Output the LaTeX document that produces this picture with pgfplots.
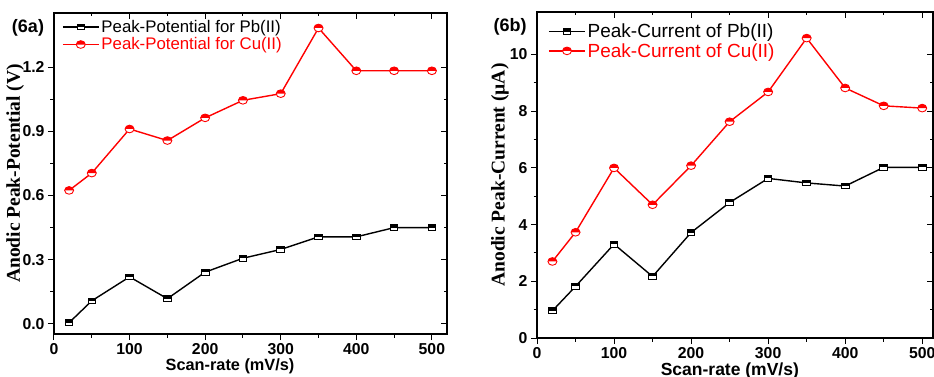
\documentclass[border=0pt]{standalone}
\usepackage{pgfplots}
\pgfplotsset{compat=1.18}
\usepackage{fontspec}
\setmainfont{Liberation Sans}
\newfontfamily\timesfont{Liberation Serif}
\usetikzlibrary{plotmarks}

\pgfdeclareplotmark{hcirc}{%
  \begin{pgfscope}\pgfsetfillcolor{white}\pgfpathcircle{\pgfpointorigin}{\pgfplotmarksize}\pgfusepathqfill\end{pgfscope}%
  \pgfpathmoveto{\pgfqpoint{\pgfplotmarksize}{0pt}}%
  \pgfpatharc{0}{180}{\pgfplotmarksize}%
  \pgfpathclose\pgfusepathqfill
  \pgfpathcircle{\pgfpointorigin}{\pgfplotmarksize}\pgfusepathqstroke}
\pgfdeclareplotmark{hsq}{%
  \begin{pgfscope}\pgfsetfillcolor{white}\pgfpathrectangle{\pgfqpoint{-\pgfplotmarksize}{-\pgfplotmarksize}}{\pgfqpoint{2\pgfplotmarksize}{2\pgfplotmarksize}}\pgfusepathqfill\end{pgfscope}%
  \pgfpathrectangle{\pgfqpoint{-\pgfplotmarksize}{0pt}}{\pgfqpoint{2\pgfplotmarksize}{\pgfplotmarksize}}\pgfusepathqfill
  \pgfpathrectangle{\pgfqpoint{-\pgfplotmarksize}{-\pgfplotmarksize}}{\pgfqpoint{2\pgfplotmarksize}{2\pgfplotmarksize}}\pgfusepathqstroke}

\pgfplotsset{
  base/.style={scale only axis, axis line style={line width=1.4pt},
    every tick/.style={black, line width=1pt}, major tick length=6pt, minor tick length=3.5pt,
    tick label style={font=\fontsize{15.8}{16}\selectfont\bfseries},
    /pgf/number format/assume math mode=true,
    minor x tick num=1, minor y tick num=1, clip=false},
  overlay/.style={base, xtick pos=right, ytick pos=right, tick align=inside,
    xticklabels={}, yticklabels={}, axis line style={draw=none}},
  pbplot/.style={black, line width=1.4pt, mark=hsq, mark size=3.8pt, mark options={solid, line width=0.9pt, yscale=0.75, fill=black}},
  cuplot/.style={red, line width=1.4pt, mark=hcirc, mark size=4.5pt, mark options={solid, line width=0.9pt, yscale=0.85, fill=red}},
  leg/.style={legend style={draw=none, fill=none, inner sep=0pt, legend cell align=left, row sep=0pt},
    legend image code/.code={\draw[mark repeat=2,mark phase=2] plot coordinates {(0pt,0pt) (18pt,0pt) (36pt,0pt)};}}
}

\begin{document}
\begin{tikzpicture}[x=1pt,y=1pt]
\path[use as bounding box] (0,0) rectangle (934,-377);

% ---- Panel (6a)
\begin{axis}[base, leg, at={(54pt,-334pt)}, anchor=south west, width=393pt, height=321pt,
  xmin=0, xmax=520, ymin=-0.047, ymax=1.453,
  xtick={0,100,200,300,400,500}, ytick={0,0.3,0.6,0.9,1.2},
  yticklabel style={/pgf/number format/.cd, fixed, fixed zerofill, precision=1},
  xtick pos=left, ytick pos=left, tick align=outside,
  xlabel={Scan-rate (mV/s)}, xlabel style={font=\fontsize{16.3}{17}\selectfont\bfseries, at={(axis description cs:0.448,-0.0997)}, anchor=center},
  ylabel={\timesfont\bfseries Anodic Peak-Potential (V)}, ylabel style={font=\fontsize{19.5}{20}\selectfont, at={(axis description cs:-0.099,0.5)}, anchor=center},
  legend style={at={(axis description cs:0.02,0.985)}, anchor=north west, font=\fontsize{16.8}{19}\selectfont}]
\addplot[pbplot] coordinates {(20,0.006)(50,0.108)(100,0.22)(150,0.118)(200,0.242)(250,0.307)(300,0.348)(350,0.407)(400,0.407)(450,0.45)(500,0.45)};
\addplot[cuplot] coordinates {(20,0.624)(50,0.705)(100,0.911)(150,0.857)(200,0.963)(250,1.045)(300,1.076)(350,1.383)(400,1.183)(450,1.183)(500,1.183)};
\legend{Peak-Potential for Pb(II), \textcolor{red}{Peak-Potential for Cu(II)}}
\end{axis}
\begin{axis}[overlay, at={(54pt,-334pt)}, anchor=south west, width=393pt, height=321pt,
  xmin=0, xmax=520, ymin=-0.047, ymax=1.453,
  xtick={0,100,200,300,400,500}, ytick={0,0.3,0.6,0.9,1.2}]
\end{axis}
\node[font=\fontsize{18}{18}\selectfont\bfseries] at (28,-28) {(6a)};

% ---- Panel (6b)
\begin{axis}[base, leg, at={(537pt,-338pt)}, anchor=south west, width=396pt, height=326pt,
  xmin=0, xmax=514, ymin=0, ymax=11.5,
  xtick={0,100,200,300,400,500}, ytick={0,2,4,6,8,10},
  xtick pos=left, ytick pos=left, tick align=outside,
  xlabel={Scan-rate (mV/s)}, xlabel style={font=\fontsize{17.5}{18}\selectfont\bfseries, at={(axis description cs:0.487,-0.1)}, anchor=center},
  ylabel={\timesfont\bfseries Anodic Peak-Current (µA)}, ylabel style={font=\fontsize{19.5}{20}\selectfont, at={(axis description cs:-0.0934,0.5)}, anchor=center},
  legend style={at={(axis description cs:0.028,0.97)}, anchor=north west, font=\fontsize{19}{20}\selectfont}]
\addplot[pbplot] coordinates {(20,0.96)(50,1.82)(100,3.31)(150,2.17)(200,3.72)(250,4.78)(300,5.63)(350,5.47)(400,5.36)(450,6.02)(500,6.02)};
\addplot[cuplot] coordinates {(20,2.70)(50,3.73)(100,6.0)(150,4.70)(200,6.08)(250,7.63)(300,8.68)(350,10.58)(400,8.82)(450,8.19)(500,8.11)};
\legend{Peak-Current of Pb(II), \textcolor{red}{Peak-Current of Cu(II)}}
\end{axis}
\begin{axis}[overlay, at={(537pt,-338pt)}, anchor=south west, width=396pt, height=326pt,
  xmin=0, xmax=514, ymin=0, ymax=11.5,
  xtick={0,100,200,300,400,500}, ytick={0,2,4,6,8,10}]
\end{axis}
\node[font=\fontsize{18}{18}\selectfont\bfseries] at (510,-27) {(6b)};
\end{tikzpicture}
\end{document}
